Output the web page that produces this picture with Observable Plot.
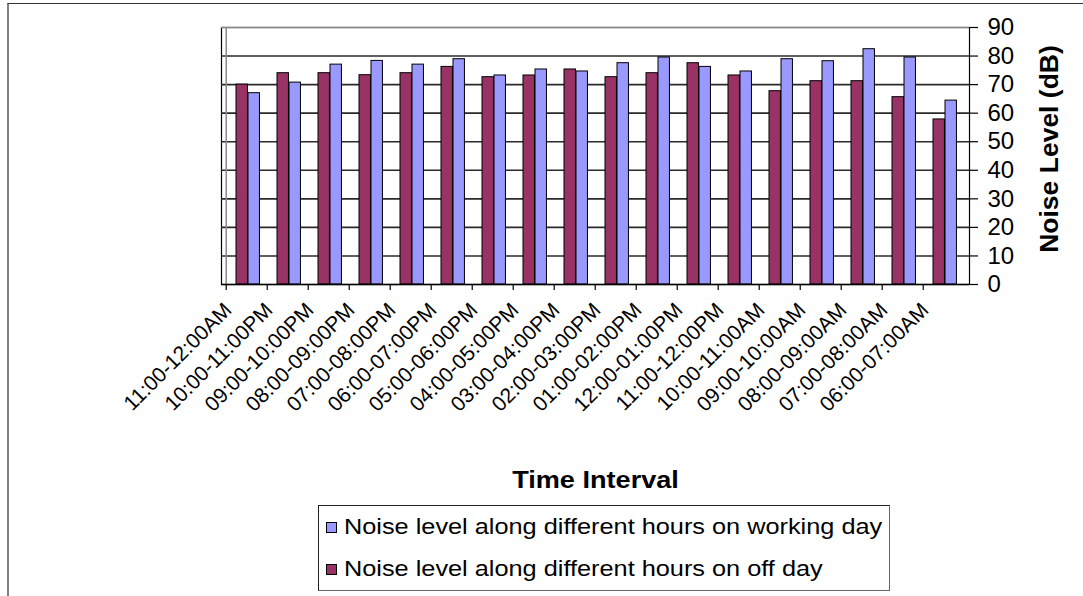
<!DOCTYPE html>
<html><head><meta charset="utf-8">
<script src="https://cdn.jsdelivr.net/npm/d3@7"></script>
<script src="https://cdn.jsdelivr.net/npm/@observablehq/plot@0.6"></script>
<style>
body{margin:0;background:#fff;font-family:"Liberation Sans",Arial,sans-serif;}
#wrap{position:relative;width:1083px;height:596px;overflow:hidden;}
#frame{position:absolute;left:7px;top:3px;width:1100px;height:620px;border-top:1.5px solid #333;border-left:2px solid #808080;}
#chart{position:absolute;left:0;top:0;}
#legend{position:absolute;left:318px;top:505px;width:572px;height:86px;border:1px solid #222;border-right-color:#666;border-bottom-color:#666;box-sizing:border-box;font-size:22px;color:#000;}
.row{position:absolute;left:7px;height:26px;display:flex;align-items:center;white-space:nowrap;}
.sw{width:9px;height:9px;border:1px solid #000;margin-right:7px;flex:none;}
.lt{display:inline-block;transform:scaleX(1.15);transform-origin:0 50%;}
</style>
</head><body>
<div id="wrap">
<div id="frame"></div>
<div id="chart"></div>
<div id="legend"></div>
</div>
<script>
const categories = ["11:00-12:00AM","10:00-11:00PM","09:00-10:00PM","08:00-09:00PM","07:00-08:00PM","06:00-07:00PM","05:00-06:00PM","04:00-05:00PM","03:00-04:00PM","02:00-03:00PM","01:00-02:00PM","12:00-01:00PM","11:00-12:00PM","10:00-11:00AM","09:00-10:00AM","08:00-09:00AM","07:00-08:00AM","06:00-07:00AM"];
const offDay = [70.0,74.0,74.0,73.3,74.0,76.2,72.6,73.2,75.3,72.6,74.0,77.5,73.2,67.7,71.2,71.2,65.6,57.8];
const workingDay = [67.0,70.7,77.0,78.3,77.0,78.9,73.2,75.3,74.6,77.5,79.5,76.2,74.6,78.9,78.2,82.4,79.5,64.4];
const yTicks = [0,10,20,30,40,50,60,70,80,90];
const seriesNames = ["Noise level along different hours on working day","Noise level along different hours on off day"];
const seriesColors = ["#9999FF","#993366"];
const xTitle = "Time Interval";
const yTitle = "Noise Level (dB)";

const W = 1083, H = 500, mL = 221, mR = 114, mT = 27, mB = 216;
const bw = (W - mL - mR) / categories.length;

const offRows = categories.map((c,i)=>({cat:c, v:offDay[i]}));
const workRows = categories.map((c,i)=>({cat:c, v:workingDay[i]}));

const chart = Plot.plot({
  width: W, height: H,
  marginLeft: mL, marginRight: mR, marginTop: mT, marginBottom: mB,
  style: {fontFamily: '"Liberation Sans", Arial, sans-serif', color:"#000", background:"transparent"},
  x: {type:"band", domain: categories, padding: 0, axis: null},
  y: {domain:[0,90], axis: null},
  marks: [
    Plot.frame({stroke:"#000", strokeWidth:1.2}),
    Plot.ruleY(yTicks.filter(t=>t>0 && t<90), {stroke:"#2a2a2a", strokeWidth:1.6}),
    Plot.ruleY([90], {stroke:"#8a8a8a", strokeWidth:1.5}),
    Plot.ruleX([categories[0]], {dx:-bw/2, y1:0, y2:90, stroke:"#8a8a8a", strokeWidth:1.5}),
    Plot.barY(offRows, {x:"cat", y:"v", fill:seriesColors[1], stroke:"#000", strokeWidth:1, insetLeft:10, insetRight:bw-22}),
    Plot.barY(workRows, {x:"cat", y:"v", fill:seriesColors[0], stroke:"#000", strokeWidth:1, insetLeft:22, insetRight:bw-34}),
    Plot.ruleY([0], {stroke:"#000", strokeWidth:1.5}),
    Plot.axisX({ticks: categories, tickSize:6, dx:-bw/2, tickFormat:()=>"", label:null, strokeWidth:1.2}),
    Plot.axisX({ticks: categories, tickSize:0, tickPadding:22, dx:-19, tickRotate:-45, fontSize:21, label:null}),
    Plot.axisY({anchor:"right", ticks: yTicks, tickSize:8, tickPadding:10, fontSize:24, label:null, strokeWidth:1.2}),
    Plot.text([yTitle], {frameAnchor:"right", textAnchor:"middle", dx:80, dy:-7, rotate:-90, fontSize:26.5, fontWeight:"bold"}),
    Plot.text([xTitle], {frameAnchor:"bottom", lineAnchor:"middle", dy:196, fontSize:24, fontWeight:"bold"})
  ]
});
document.getElementById("chart").appendChild(chart);
d3.select(chart).selectAll("text").filter(function(){return this.textContent === xTitle;})
  .each(function(){ const t = this.getAttribute("transform") || ""; this.setAttribute("transform", t + " scale(1.13,1)"); });

const leg = document.getElementById("legend");
seriesNames.forEach((n,i)=>{
  const r = document.createElement("div");
  r.className = "row";
  r.style.top = (i===0 ? 8 : 50) + "px";
  r.innerHTML = `<span class="sw" style="background:${seriesColors[i]}"></span><span class="lt">${n}</span>`;
  leg.appendChild(r);
});
</script>
</body></html>
